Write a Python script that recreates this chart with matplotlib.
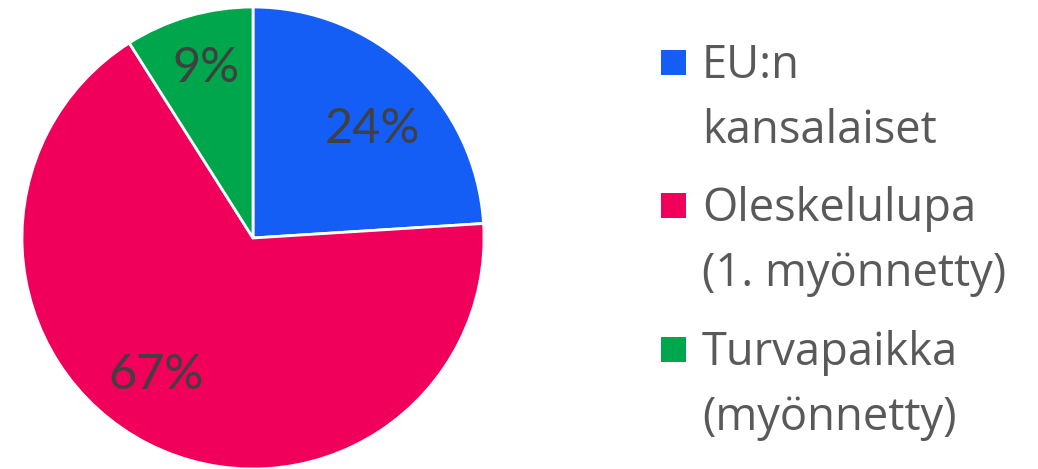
import matplotlib
matplotlib.use("Agg")
import numpy as np
import matplotlib.pyplot as plt
from matplotlib.patches import Rectangle

categories = ["EU:n\nkansalaiset", "Oleskelulupa\n(1. myönnetty)", "Turvapaikka\n(myönnetty)"]
values = [24, 67, 9]
colors = ["#155EF5", "#F0005A", "#00A64B"]

# label placement (radius, angle offset from wedge middle) - style only
label_r = [0.66, 0.777, 0.704]
label_dtheta = [-8.2, -5.7, 0.4]

W, H = 1038, 469
fig = plt.figure(figsize=(W / 100, H / 100), dpi=100)
fig.patch.set_facecolor("white")

cx, cy, r = 253, 238, 231
ax = fig.add_axes([(cx - r) / W, (H - cy - r) / H, 2 * r / W, 2 * r / H])
wedges, texts, autotexts = ax.pie(
    values, colors=colors, startangle=90, counterclock=False,
    autopct=lambda p: f"{p:.0f}%",
    wedgeprops=dict(edgecolor="white", linewidth=2.0),
    textprops=dict(fontsize=35, color="#404040", family="Lato"),
)
for w, t, lr, dt in zip(wedges, autotexts, label_r, label_dtheta):
    mid = np.deg2rad((w.theta1 + w.theta2) / 2 + dt)
    t.set_position((lr * np.cos(mid), lr * np.sin(mid)))
    t.set_va("baseline")
    t.set_ha("center")
ax.set_xlim(-1, 1)
ax.set_ylim(-1, 1)
ax.set_aspect("equal")
ax.axis("off")

# legend drawn manually
sq = 25
tx = 702
first_base = 78
entry_step = 143.5
line_step = 64.5
for i, (lab, col) in enumerate(zip(categories, colors)):
    base = first_base + i * entry_step
    fig.patches.append(Rectangle((661 / W, (H - (base - 3)) / H), sq / W, sq / H,
                                 transform=fig.transFigure, facecolor=col, edgecolor="none"))
    for j, line in enumerate(lab.split("\n")):
        fig.text(tx / W, (H - (base + j * line_step)) / H, line, fontsize=32.6,
                 family="Open Sans", color="#595959", va="baseline", ha="left")

fig.savefig("out.png", dpi=100)
